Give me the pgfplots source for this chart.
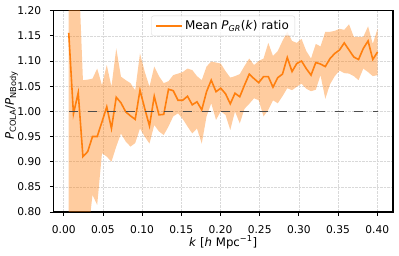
\documentclass[border=0pt]{standalone}
\usepackage{fontspec}
\setmainfont{DejaVu Sans}
\usepackage{pgfplots}
\pgfplotsset{compat=1.18}
\usepackage{pgfplotstable}
\usepgfplotslibrary{fillbetween}
\definecolor{mplorange}{HTML}{FF7F0E}
\pgfplotstableread{
k mean lo hi
0.0064 1.156 0.70 1.30
0.0124 0.995 0.70 1.30
0.0185 1.037 0.70 1.30
0.0245 0.910 0.70 1.062
0.0306 0.920 0.75 1.063
0.0367 0.950 0.834 1.065
0.0427 0.950 0.814 1.085
0.0488 0.979 0.917 1.052
0.0549 1.009 0.910 1.092
0.0609 0.966 0.900 1.049
0.0670 1.028 0.930 1.125
0.0730 1.017 0.956 1.069
0.0791 0.999 0.940 1.062
0.0852 0.991 0.930 1.056
0.0912 0.984 0.937 1.042
0.0973 1.042 0.966 1.115
0.1033 1.006 0.950 1.079
0.1094 0.971 0.936 1.049
0.1155 1.030 0.973 1.089
0.1215 0.993 0.960 1.070
0.1276 0.994 0.953 1.056
0.1337 1.044 0.970 1.060
0.1397 1.041 0.990 1.072
0.1458 1.022 0.996 1.075
0.1518 1.022 0.985 1.078
0.1579 1.030 0.970 1.085
0.1640 1.013 0.956 1.082
0.1700 1.019 0.966 1.070
0.1761 1.003 0.936 1.062
0.1822 1.039 0.990 1.089
0.1882 1.062 1.016 1.099
0.1943 1.039 0.983 1.097
0.2003 1.046 1.000 1.095
0.2064 1.035 0.993 1.080
0.2125 1.015 0.963 1.067
0.2185 1.036 1.000 1.070
0.2246 1.029 0.976 1.074
0.2306 1.052 1.005 1.090
0.2367 1.074 1.015 1.105
0.2428 1.065 1.026 1.092
0.2488 1.057 1.022 1.100
0.2549 1.069 0.990 1.105
0.2610 1.069 1.003 1.136
0.2670 1.048 1.022 1.110
0.2731 1.067 1.016 1.120
0.2791 1.074 1.030 1.140
0.2852 1.107 1.046 1.158
0.2913 1.079 1.042 1.140
0.2973 1.095 1.049 1.136
0.3034 1.100 1.055 1.144
0.3094 1.085 1.045 1.120
0.3155 1.072 1.040 1.105
0.3216 1.097 1.043 1.134
0.3276 1.094 1.072 1.129
0.3337 1.089 1.025 1.158
0.3398 1.105 1.054 1.158
0.3458 1.115 1.070 1.160
0.3519 1.122 1.081 1.164
0.3579 1.136 1.076 1.162
0.3640 1.122 1.075 1.173
0.3701 1.108 1.070 1.148
0.3761 1.103 1.062 1.148
0.3822 1.125 1.085 1.148
0.3883 1.140 1.078 1.169
0.3943 1.103 1.070 1.134
0.4004 1.118 1.072 1.164
}\datatable
\begin{document}
\begin{tikzpicture}
\begin{axis}[
  at={(0,0)}, anchor=south west,
  scale only axis,
  width=339.7bp, height=201.3bp,
  xmin=-0.0133, xmax=0.4201,
  ymin=0.8, ymax=1.2,
  xtick={0,0.05,...,0.41},
  ytick={0.8,0.85,...,1.21},
  tick pos=left,
  tick align=outside,
  major tick length=3.5bp,
  every tick/.style={black, line width=0.8bp},
  axis line style={black, line width=1.2bp},
  grid=major,
  major grid style={gray!30, densely dotted, line width=0.6bp},
  ticklabel style={font=\fontsize{10.7}{12}\selectfont,
    /pgf/number format/assume math mode=true,
    /pgf/number format/fixed, /pgf/number format/fixed zerofill,
    /pgf/number format/precision=2},
  xticklabel style={anchor=north, inner sep=0pt, yshift=-9.5bp},
  yticklabel style={anchor=east, inner sep=0pt, xshift=-8.5bp},
  xlabel={\textit{k} [\textit{h} Mpc\textsuperscript{−1}]},
  ylabel={\textit{P}\textsubscript{COLA}/\textit{P}\textsubscript{NBody}},
  label style={font=\fontsize{11.8}{13}\selectfont},
  xlabel style={at={(axis description cs:0.5,-0.17)}, anchor=base},
  ylabel style={at={(axis description cs:-0.1157,0.53)}, anchor=base, rotate=0},
  legend style={at={(0.5,0.975)}, anchor=north, draw=gray!30, rounded corners=2bp,
    fill=white, fill opacity=0.8, text opacity=1,
    font=\fontsize{12}{14}\selectfont, inner xsep=4bp, inner ysep=2.5bp},
  legend cell align=left,
  legend image code/.code={\draw[#1] (0bp,0bp) -- (26bp,0bp);},
]
\addplot[name path=up, draw=none, forget plot] table[x=k, y=hi] {\datatable};
\addplot[name path=lo, draw=none, forget plot] table[x=k, y=lo] {\datatable};
\addplot[mplorange, fill opacity=0.4, draw=none, forget plot] fill between[of=up and lo];
\addplot[mplorange, line width=1.6bp] table[x=k, y=mean] {\datatable};
\addlegendentry{Mean \textit{P}\textsubscript{\textit{GR}}(\textit{k}) ratio}
\addplot[black!70, line width=1.6bp, dash pattern=on 9bp off 10bp, forget plot] coordinates {(0.0064,1) (0.4004,1)};
\end{axis}
\pgfresetboundingbox
\path[use as bounding box] (-53.3bp,-44bp) rectangle (345.7bp,212bp);
\end{tikzpicture}
\end{document}
